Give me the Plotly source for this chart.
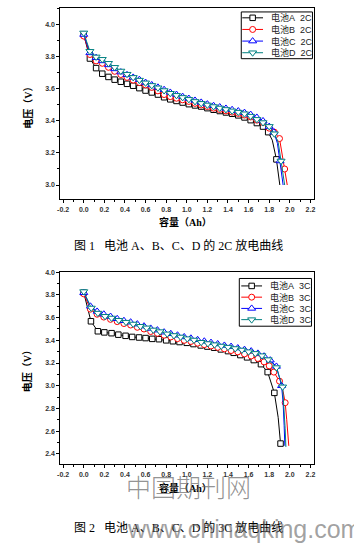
import plotly.graph_objects as go

W, H = 354, 544

# ---------------- data: Fig.1 (2C discharge) ----------------
cap_2c_a = [0, 0.06, 0.12, 0.18, 0.24, 0.30, 0.36, 0.42, 0.48, 0.54, 0.60, 0.66, 0.72, 0.78, 0.84,
            0.90, 0.96, 1.02, 1.08, 1.14, 1.20, 1.26, 1.32, 1.38, 1.44, 1.50, 1.56, 1.62, 1.68, 1.74,
            1.79, 1.83, 1.87, 1.89, 1.903]
volt_2c_a = [3.94, 3.79, 3.73, 3.695, 3.675, 3.658, 3.645, 3.632, 3.62, 3.605, 3.59, 3.578, 3.565, 3.548, 3.535,
             3.525, 3.515, 3.505, 3.497, 3.49, 3.48, 3.47, 3.462, 3.453, 3.445, 3.435, 3.422, 3.405, 3.387, 3.365,
             3.33, 3.28, 3.16, 3.07, 3.0]

cap_2c_b = [0, 0.06, 0.12, 0.18, 0.24, 0.30, 0.36, 0.42, 0.48, 0.54, 0.60, 0.66, 0.72, 0.78, 0.84,
            0.90, 0.96, 1.02, 1.08, 1.14, 1.20, 1.26, 1.32, 1.38, 1.44, 1.50, 1.56, 1.62, 1.68, 1.74,
            1.80, 1.85, 1.90, 1.93, 1.95, 1.965, 1.975]
volt_2c_b = [3.93, 3.815, 3.775, 3.76, 3.735, 3.71, 3.69, 3.672, 3.655, 3.64, 3.625, 3.61, 3.588, 3.565, 3.552,
             3.542, 3.532, 3.522, 3.51, 3.5, 3.49, 3.48, 3.472, 3.463, 3.455, 3.447, 3.437, 3.425, 3.405, 3.39,
             3.355, 3.33, 3.29, 3.18, 3.10, 3.04, 3.0]

cap_2c_c = [0, 0.06, 0.12, 0.18, 0.24, 0.30, 0.36, 0.42, 0.48, 0.54, 0.60, 0.66, 0.72, 0.78, 0.84,
            0.90, 0.96, 1.02, 1.08, 1.14, 1.20, 1.26, 1.32, 1.38, 1.44, 1.50, 1.56, 1.62, 1.68, 1.74,
            1.80, 1.845, 1.88, 1.905, 1.92, 1.935]
volt_2c_c = [3.94, 3.825, 3.795, 3.775, 3.75, 3.725, 3.705, 3.688, 3.672, 3.658, 3.64, 3.625, 3.61, 3.595, 3.578,
             3.565, 3.552, 3.54, 3.528, 3.516, 3.505, 3.495, 3.487, 3.478, 3.47, 3.462, 3.452, 3.44, 3.422, 3.40,
             3.365, 3.33, 3.26, 3.15, 3.056, 3.0]

cap_2c_d = [0, 0.06, 0.12, 0.18, 0.24, 0.30, 0.36, 0.42, 0.48, 0.54, 0.60, 0.66, 0.72, 0.78, 0.84,
            0.90, 0.96, 1.02, 1.08, 1.14, 1.20, 1.26, 1.32, 1.38, 1.44, 1.50, 1.56, 1.62, 1.68, 1.74,
            1.80, 1.85, 1.887, 1.915, 1.935, 1.95]
volt_2c_d = [3.95, 3.835, 3.80, 3.785, 3.76, 3.735, 3.712, 3.692, 3.672, 3.655, 3.638, 3.622, 3.607, 3.59, 3.573,
             3.56, 3.547, 3.535, 3.522, 3.51, 3.5, 3.49, 3.481, 3.472, 3.463, 3.455, 3.445, 3.43, 3.41, 3.39,
             3.366, 3.32, 3.267, 3.15, 3.064, 3.0]

# ---------------- data: Fig.2 (3C discharge) ----------------
cap_3c_a = [0, 0.035, 0.07, 0.137, 0.20, 0.27, 0.336, 0.406, 0.47, 0.537, 0.60, 0.665, 0.73, 0.80, 0.865,
            0.93, 1.00, 1.065, 1.135, 1.20, 1.265, 1.33, 1.40, 1.455, 1.52, 1.585, 1.65, 1.72, 1.785, 1.85,
            1.887, 1.91]
volt_3c_a = [3.82, 3.70, 3.568, 3.48, 3.47, 3.463, 3.45, 3.44, 3.43, 3.425, 3.42, 3.413, 3.41, 3.40, 3.392,
             3.385, 3.378, 3.367, 3.355, 3.345, 3.335, 3.32, 3.305, 3.29, 3.27, 3.25, 3.226, 3.19, 3.12, 2.937,
             2.72, 2.49]

cap_3c_b = [0, 0.065, 0.13, 0.195, 0.26, 0.325, 0.39, 0.455, 0.52, 0.585, 0.65, 0.715, 0.78, 0.845, 0.91,
            0.975, 1.04, 1.105, 1.17, 1.235, 1.30, 1.365, 1.43, 1.495, 1.56, 1.625, 1.69, 1.75, 1.80, 1.845,
            1.90, 1.935, 1.955, 1.97, 1.98, 1.99]
volt_3c_b = [3.81, 3.675, 3.63, 3.605, 3.585, 3.565, 3.548, 3.535, 3.515, 3.50, 3.478, 3.462, 3.445, 3.43, 3.415,
             3.40, 3.39, 3.375, 3.362, 3.35, 3.338, 3.325, 3.31, 3.298, 3.28, 3.262, 3.24, 3.21, 3.175, 3.12,
             3.04, 2.95, 2.85, 2.70, 2.56, 2.47]

cap_3c_c = [0, 0.065, 0.13, 0.195, 0.26, 0.325, 0.39, 0.455, 0.52, 0.585, 0.65, 0.715, 0.78, 0.845, 0.91,
            0.975, 1.04, 1.105, 1.17, 1.235, 1.30, 1.365, 1.43, 1.495, 1.56, 1.625, 1.69, 1.75, 1.81, 1.87,
            1.92, 1.935, 1.945, 1.952]
volt_3c_c = [3.82, 3.70, 3.655, 3.63, 3.61, 3.59, 3.573, 3.56, 3.543, 3.525, 3.505, 3.49, 3.472, 3.458, 3.445,
             3.43, 3.418, 3.405, 3.392, 3.38, 3.368, 3.355, 3.345, 3.332, 3.318, 3.305, 3.285, 3.26, 3.225, 3.17,
             3.00, 2.85, 2.65, 2.47]

cap_3c_d = [0, 0.073, 0.137, 0.207, 0.27, 0.34, 0.41, 0.48, 0.55, 0.61, 0.675, 0.74, 0.81, 0.875, 0.94,
            1.005, 1.07, 1.14, 1.205, 1.27, 1.335, 1.40, 1.47, 1.535, 1.60, 1.665, 1.73, 1.79, 1.87, 1.93,
            1.945, 1.955, 1.962]
volt_3c_d = [3.83, 3.685, 3.64, 3.612, 3.597, 3.577, 3.56, 3.544, 3.524, 3.51, 3.492, 3.477, 3.457, 3.443, 3.43,
             3.415, 3.403, 3.383, 3.372, 3.362, 3.35, 3.34, 3.328, 3.315, 3.30, 3.285, 3.265, 3.23, 3.16, 2.99,
             2.80, 2.62, 2.46]

series_names = ["电池A", "电池B", "电池C", "电池D"]
rates = ["2C", "3C"]
x_ticks = [-0.2, 0.0, 0.2, 0.4, 0.6, 0.8, 1.0, 1.2, 1.4, 1.6, 1.8, 2.0, 2.2]
y_ticks_1 = [3.0, 3.2, 3.4, 3.6, 3.8, 4.0]
y_ticks_2 = [2.4, 2.6, 2.8, 3.0, 3.2, 3.4, 3.6, 3.8, 4.0]
x_title = "容量（Ah）"
y_title = "电压（V）"
captions = ["图 1\u00a0\u00a0\u00a0电池 A、B、C、D 的 2C 放电曲线",
            "图 2\u00a0\u00a0\u00a0电池 A、B、C、D 的 3C 放电曲线"]

# ---------------- styles ----------------
colors = ["#000000", "#ff0000", "#0000ff", "#008080"]
symbols = ["square", "circle", "triangle-up", "triangle-down"]
sizes = [5.5, 6, 7, 7]
MARK_SKIP = 0.045  # minimum capacity gap between drawn symbols (like Origin's skip-points)


def marker_sizes(xs, size):
    out, last = [], None
    for v in xs:
        if last is None or v - last >= MARK_SKIP - 1e-9:
            out.append(size)
            last = v
        else:
            out.append(0)
    return out


fig = go.Figure()

datasets = [
    [(cap_2c_a, volt_2c_a), (cap_2c_b, volt_2c_b), (cap_2c_c, volt_2c_c), (cap_2c_d, volt_2c_d)],
    [(cap_3c_a, volt_3c_a), (cap_3c_b, volt_3c_b), (cap_3c_c, volt_3c_c), (cap_3c_d, volt_3c_d)],
]
axes = [("x", "y"), ("x2", "y2")]

for ci, ds in enumerate(datasets):
    xa, ya = axes[ci]
    for si, (xs, ys) in enumerate(ds):
        ms = marker_sizes(xs, sizes[si])
        fig.add_trace(go.Scatter(
            x=xs, y=ys, mode="lines", xaxis=xa, yaxis=ya, showlegend=False,
            line=dict(color=colors[si], width=1),
        ))
        fig.add_trace(go.Scatter(
            x=[x for x, m in zip(xs, ms) if m], y=[y for y, m in zip(ys, ms) if m],
            mode="markers", xaxis=xa, yaxis=ya, showlegend=False,
            marker=dict(symbol=symbols[si], size=sizes[si], color="white",
                        line=dict(color=colors[si], width=1)),
        ))

# ---------------- layout geometry (pixels) ----------------
px_left, px_right = 58, 315
panels = [
    dict(top=5, bottom=197.5, yr=[2.91, 4.1056], yt=y_ticks_1),
    dict(top=270.7, bottom=464, yr=[2.306, 4.0005], yt=y_ticks_2),
]
xdom = [px_left / W, px_right / W]
tickfont = dict(family="Liberation Sans, Arial", size=7, color="#333333", weight="bold")

common_x = dict(range=[-0.227, 2.239], showgrid=False, zeroline=False, showline=True,
                linecolor="black", linewidth=1, mirror=True, ticks="outside", ticklen=3,
                tickwidth=1, tickcolor="black", tickmode="array", tickvals=x_ticks,
                ticktext=[f"{v:.1f}" for v in x_ticks], tickfont=tickfont,
                minor=dict(ticks="outside", ticklen=2, tickcolor="black", dtick=0.1, tick0=0,
                           showgrid=False))

layout = dict(width=W, height=H, margin=dict(l=0, r=0, t=0, b=0),
              paper_bgcolor="white", plot_bgcolor="rgba(0,0,0,0)", showlegend=False)

for ci, p in enumerate(panels):
    suf = "" if ci == 0 else "2"
    ydom = [1 - p["bottom"] / H, 1 - p["top"] / H]
    layout["xaxis" + suf] = dict(common_x, domain=xdom, anchor="y" + suf)
    layout["yaxis" + suf] = dict(range=p["yr"], domain=ydom, anchor="x" + suf, showgrid=False,
                                 zeroline=False, showline=True, linecolor="black", linewidth=1,
                                 mirror=True, ticks="outside", ticklen=3, tickwidth=1,
                                 tickcolor="black", tickmode="array", tickvals=p["yt"],
                                 ticktext=[f"{v:.1f}" for v in p["yt"]], tickfont=tickfont,
                                 minor=dict(ticks="outside", ticklen=2, tickcolor="black",
                                            dtick=0.1, tick0=0, showgrid=False))

# overlay pixel axis for legends / texts
layout["xaxis3"] = dict(domain=[0, 1], range=[0, W], visible=False, anchor="y3", fixedrange=True)
layout["yaxis3"] = dict(domain=[0, 1], range=[H, 0], visible=False, anchor="x3", fixedrange=True)
fig.update_layout(**layout)

# ---------------- legends ----------------
legend_boxes = [
    dict(x0=241, x1=313, y0=9, y1=56, lx0=242, lx1=263, tx=269, r0=14.9, dr=11.7),
    dict(x0=239, x1=312, y0=277, y1=325, lx0=241, lx1=262, tx=268, r0=284.5, dr=11.3),
]
shapes = []
annotations = []
for ci, lb in enumerate(legend_boxes):
    shapes.append(dict(type="rect", xref="x3", yref="y3", x0=lb["x0"], x1=lb["x1"],
                       y0=lb["y0"], y1=lb["y1"], line=dict(color="black", width=1),
                       fillcolor="rgba(0,0,0,0)", layer="above"))
    for si in range(4):
        ry = lb["r0"] + lb["dr"] * si
        fig.add_trace(go.Scatter(x=[lb["lx0"], lb["lx1"]], y=[ry, ry], mode="lines",
                                 xaxis="x3", yaxis="y3", showlegend=False, hoverinfo="skip",
                                 line=dict(color=colors[si], width=1)))
        fig.add_trace(go.Scatter(x=[(lb["lx0"] + lb["lx1"]) / 2], y=[ry], mode="markers",
                                 xaxis="x3", yaxis="y3", showlegend=False, hoverinfo="skip",
                                 marker=dict(symbol=symbols[si], size=sizes[si], color="white",
                                             line=dict(color=colors[si], width=1))))
        annotations.append(dict(xref="x3", yref="y3", x=lb["tx"], y=ry, xanchor="left",
                                yanchor="middle", showarrow=False,
                                text=series_names[si] + "\u00a0\u00a0" + rates[ci],
                                font=dict(family="Liberation Sans, Noto Sans CJK SC", size=9,
                                          color="#222222")))

# ---------------- axis titles & captions ----------------
title_font = dict(family="Liberation Serif, Noto Sans CJK SC", size=10, color="black", weight="bold")
for ytc in [102.5, 367.5]:
    annotations.append(dict(xref="x3", yref="y3", x=25, y=ytc, text=y_title, textangle=-90,
                            showarrow=False, font=title_font))
for xtc in [220.5, 487.5]:
    annotations.append(dict(xref="x3", yref="y3", x=185, y=xtc, text=x_title,
                            showarrow=False, font=title_font))
cap_font = dict(family="Liberation Serif, Noto Sans CJK SC", size=12, color="black")
for cy, txt in zip([243.5, 527], captions):
    annotations.append(dict(xref="x3", yref="y3", x=177.5, y=cy, text=txt, showarrow=False,
                            font=cap_font))

# watermark
annotations.append(dict(xref="x3", yref="y3", x=188, y=486, text="中国期刊网", showarrow=False,
                        font=dict(family="Noto Sans CJK SC", size=25, color="rgba(100,100,100,0.7)",
                                  weight=300)))
annotations.append(dict(xref="x3", yref="y3", x=123, y=529, text="www.chinaqking.com",
                        xanchor="left", showarrow=False,
                        font=dict(family="Liberation Sans", size=25, color="rgba(100,100,100,0.6)")))

fig.update_layout(shapes=shapes, annotations=annotations)
fig.write_html("out.html")
